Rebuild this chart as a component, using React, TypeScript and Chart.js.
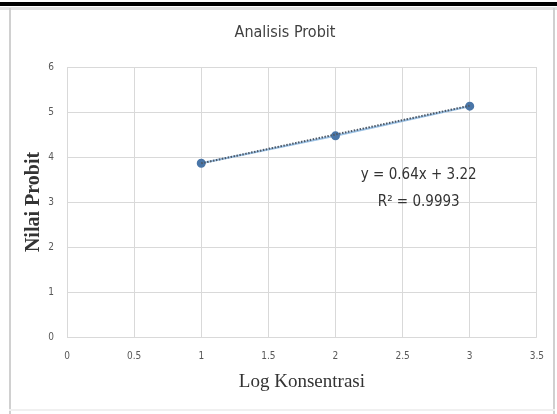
import React, { useEffect, useRef } from "react";
import { Chart, registerables } from "chart.js";

Chart.register(...registerables);

const TITLE = "Analisis Probit";
const X_TITLE = "Log Konsentrasi";
const Y_TITLE = "Nilai Probit";
const logKonsentrasi = [1, 2, 3];
const nilaiProbit = [3.86, 4.47, 5.13];
const trendX = [1, 3];
const trendY = [3.86, 5.14];
const EQUATION = "y = 0.64x + 3.22";
const R_SQUARED = "R² = 0.9993";

const NARROW = "'Liberation Sans Narrow', 'DejaVu Sans Condensed', 'Arial Narrow', sans-serif";
const SERIF = "'Liberation Serif', 'Times New Roman', serif";

export default function App() {
  const ref = useRef<HTMLCanvasElement>(null);
  useEffect(() => {
    if (!ref.current) return;
    const decor = {
      id: "decor",
      beforeDraw(chart: any) {
        const ctx = chart.ctx;
        ctx.save();
        ctx.fillStyle = "#fff";
        ctx.fillRect(0, 0, 557, 414);
        ctx.fillStyle = "#000";
        ctx.fillRect(0, 2, 557, 4);
        ctx.fillStyle = "#e2e2e2";
        ctx.fillRect(0, 7, 557, 3);
        ctx.fillStyle = "#d0d0d0";
        ctx.fillRect(9, 8, 2, 406);
        ctx.fillRect(553, 8, 2, 406);
        ctx.fillStyle = "#f0f0f0";
        ctx.fillRect(9, 409, 546, 2);
        ctx.restore();
      },
      afterDraw(chart: any) {
        const ctx = chart.ctx;
        ctx.save();
        ctx.fillStyle = "#404040";
        ctx.textAlign = "center";
        ctx.textBaseline = "middle";
        ctx.font = `16px ${NARROW}`;
        ctx.fillText(TITLE, 285, 33);
        const xs = chart.scales.x;
        const ys = chart.scales.y;
        ctx.font = `15px ${NARROW}`;
        ctx.fillStyle = "#333";
        ctx.fillText(EQUATION, xs.getPixelForValue(2.62), ys.getPixelForValue(3.6));
        ctx.fillText(R_SQUARED, xs.getPixelForValue(2.62), ys.getPixelForValue(3.0));
        ctx.restore();
      },
    };
    const chart = new Chart(ref.current, {
      type: "scatter",
      data: {
        datasets: [
          {
            label: "Trend",
            data: trendX.map((x, i) => ({ x, y: trendY[i] })),
            showLine: true,
            borderColor: "#4d5866",
            borderWidth: 2,
            borderDash: [1.5, 1.5],
            pointRadius: 0,
            order: 1,
          },
          {
            label: "Probit",
            data: logKonsentrasi.map((x, i) => ({ x, y: nilaiProbit[i] })),
            showLine: true,
            borderColor: "#9dc3e6",
            borderWidth: 2,
            backgroundColor: "#4a76a8",
            pointBackgroundColor: "#4a76a8",
            pointBorderColor: "#4a76a8",
            pointRadius: 3.5,
            order: 2,
          },
        ],
      },
      options: {
        responsive: false,
        animation: false,
        layout: { padding: { top: 67, right: 20, left: 0, bottom: 0 } },
        plugins: {
          legend: { display: false },
          tooltip: { enabled: false },
          title: { display: false },
        },
        scales: {
          x: {
            type: "linear",
            min: 0,
            max: 3.5,
            afterFit: (s: any) => { s.height = 77; },
            ticks: {
              stepSize: 0.5,
              padding: 13,
              color: "#595959",
              font: { size: 10, family: NARROW },
              callback: (v: any) => String(Number(v)),
            },
            grid: { color: "#d9d9d9", drawTicks: false },
            border: { display: false },
            title: {
              display: true,
              text: X_TITLE,
              color: "#333",
              font: { size: 19, family: SERIF },
              padding: { top: 0, bottom: 21 },
            },
          },
          y: {
            type: "linear",
            min: 0,
            max: 6,
            afterFit: (s: any) => { s.width = 67; },
            ticks: {
              stepSize: 1,
              padding: 13,
              color: "#595959",
              font: { size: 10, family: NARROW },
              callback: (v: any) => String(Number(v)),
            },
            grid: { color: "#d9d9d9", drawTicks: false },
            border: { display: false },
            title: {
              display: true,
              text: Y_TITLE,
              color: "#333",
              font: { size: 20, family: SERIF, weight: "bold" },
              padding: { top: 22, bottom: 0 },
            },
          },
        },
      },
      plugins: [decor],
    } as any);
    return () => chart.destroy();
  }, []);
  return (
    <div style={{ position: "fixed", left: 0, top: 0, width: 557, height: 414 }}>
      <canvas ref={ref} width={557} height={414} />
    </div>
  );
}
